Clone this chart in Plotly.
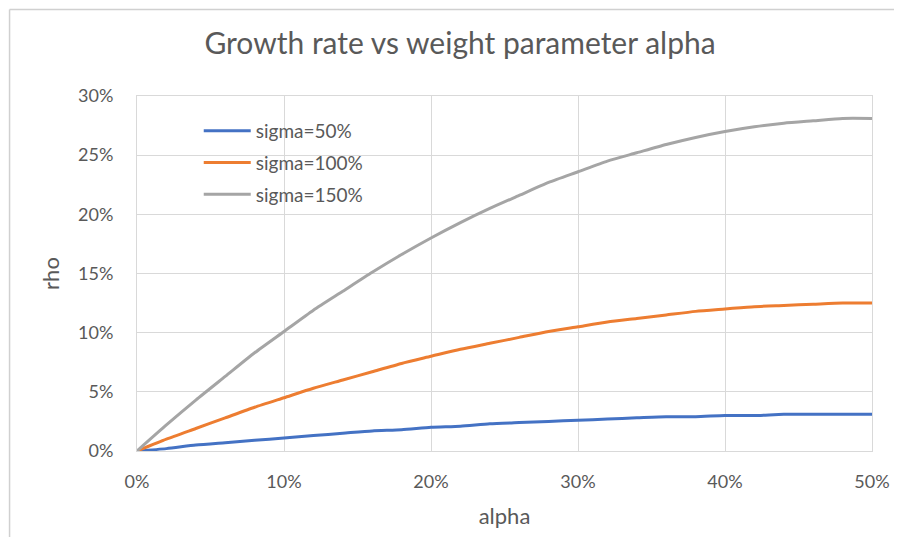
import plotly.graph_objects as go

# alpha values (x) and growth rate rho for each sigma
alpha = [0.00, 0.02, 0.04, 0.06, 0.08, 0.10, 0.12, 0.14, 0.16, 0.18, 0.20, 0.22, 0.24,
         0.26, 0.28, 0.30, 0.32, 0.34, 0.36, 0.38, 0.40, 0.42, 0.44, 0.46, 0.48, 0.50]

rho_sigma_50 = [0.000, 0.002, 0.005, 0.007, 0.009, 0.011, 0.013, 0.015, 0.017, 0.018,
                0.020, 0.021, 0.023, 0.024, 0.025, 0.026, 0.027, 0.028, 0.029, 0.029,
                0.030, 0.030, 0.031, 0.031, 0.031, 0.031]
rho_sigma_100 = [0.000, 0.010, 0.019, 0.028, 0.037, 0.045, 0.053, 0.060, 0.067, 0.074,
                 0.080, 0.086, 0.091, 0.096, 0.101, 0.105, 0.109, 0.112, 0.115, 0.118,
                 0.120, 0.122, 0.123, 0.124, 0.125, 0.125]
rho_sigma_150 = [0.000, 0.022, 0.043, 0.063, 0.083, 0.101, 0.119, 0.135, 0.151, 0.166,
                 0.180, 0.193, 0.205, 0.216, 0.227, 0.236, 0.245, 0.252, 0.259, 0.265,
                 0.270, 0.274, 0.277, 0.279, 0.281, 0.281]

series_names = ["sigma=50%", "sigma=100%", "sigma=150%"]
series_colors = ["#4472C4", "#ED7D31", "#A5A5A5"]

font_family = "Lato, Carlito, Calibri, sans-serif"
text_color = "#595959"

fig = go.Figure()
for i, (name, vals) in enumerate(zip(series_names, [rho_sigma_50, rho_sigma_100, rho_sigma_150])):
    fig.add_trace(go.Scatter(
        x=alpha, y=vals, name=name, mode="lines",
        line=dict(color=series_colors[i], width=3, shape="spline", smoothing=0.6),
        legendgroup=str(i),
    ))

# page body has an 8px margin, so the figure is a bit smaller and margins shifted
fig.update_layout(
    width=894, height=529,
    margin=dict(l=129, r=27, t=88, b=84),
    paper_bgcolor="white", plot_bgcolor="white",
    font=dict(family=font_family, color=text_color, size=18),
    title=dict(text="Growth rate vs weight parameter alpha",
               x=0.5056, xanchor="center", y=0.932, yanchor="middle",
               font=dict(size=30, color=text_color)),
    showlegend=True,
    legend=dict(x=0.084, y=0.955, xanchor="left", yanchor="top",
                bgcolor="rgba(0,0,0,0)", font=dict(size=19, color=text_color),
                traceorder="grouped", tracegroupgap=4, itemwidth=47),
    xaxis=dict(range=[0, 0.5], tickvals=[0, 0.1, 0.2, 0.3, 0.4, 0.5],
               tickformat=".0%", showgrid=True, gridcolor="#D9D9D9", gridwidth=1,
               showline=True, linecolor="#D9D9D9", linewidth=1, mirror=True,
               zeroline=False, ticks="", ticklabelstandoff=14,
               title=dict(text="alpha", font=dict(size=22), standoff=18)),
    yaxis=dict(range=[0, 0.30], tickvals=[0, 0.05, 0.10, 0.15, 0.20, 0.25, 0.30],
               tickformat=".0%", showgrid=True, gridcolor="#D9D9D9", gridwidth=1,
               showline=True, linecolor="#D9D9D9", linewidth=1, mirror=True,
               zeroline=False, ticks="", ticklabelstandoff=19,
               title=dict(text="rho", font=dict(size=22), standoff=12)),
)

# outer chart-area border (only top and left edges visible in the original)
fig.add_shape(type="line", xref="paper", yref="paper",
              x0=-0.1734, x1=1.05, y0=1.2437, y1=1.2437,
              line=dict(color="#D0D0D0", width=1.5))
fig.add_shape(type="line", xref="paper", yref="paper",
              x0=-0.1734, x1=-0.1734, y0=1.2437, y1=-0.3,
              line=dict(color="#D0D0D0", width=1.5))

fig.write_html("out.html")
